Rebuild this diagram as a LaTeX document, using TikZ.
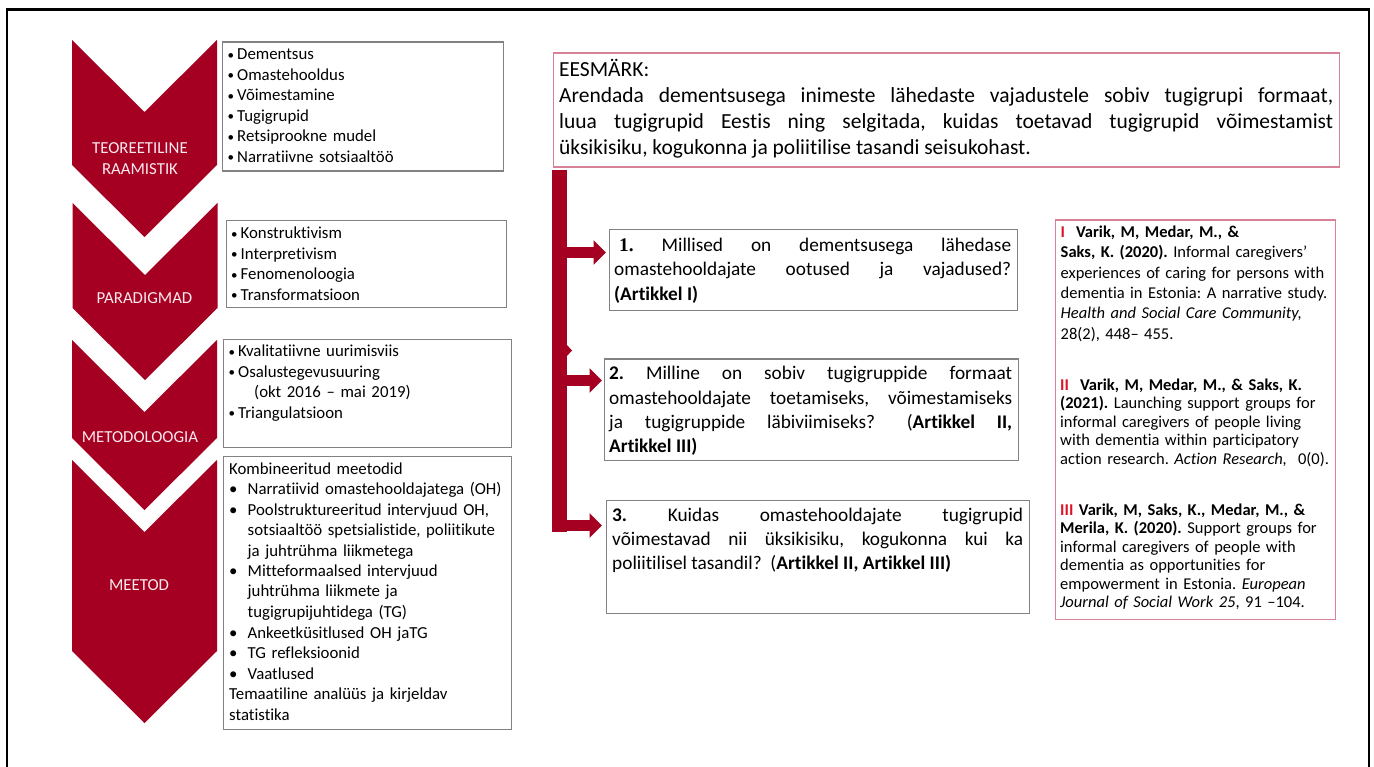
\documentclass[tikz,border=0pt]{standalone}
\usepackage{fontspec}
\setmainfont{Carlito}[Ligatures=NoCommon]
\newfontfamily\serifb{Liberation Serif}
\usetikzlibrary{arrows.meta}
\frenchspacing
\definecolor{chev}{RGB}{165,0,33}
\definecolor{chevtxt}{RGB}{250,234,238}
\definecolor{boxgray}{RGB}{130,130,130}
\definecolor{pinkb}{RGB}{215,130,150}
\definecolor{refred}{RGB}{220,20,40}
\newcommand{\bl}{\makebox[9.5pt][l]{\fontsize{13}{13}\selectfont\raisebox{0.6pt}{•}}}
\newcommand{\blw}{\makebox[18.5pt][l]{•}}
\newcommand{\jl}[2]{{\frenchspacing\spaceskip=\fontdimen2\font plus 1fil minus \fontdimen4\font\relax\makebox[#1][s]{#2}}}
\begin{document}
\begin{tikzpicture}[x=1pt,y=-1pt,
  chevron/.style={fill=chev},
  chevlabel/.style={text=chevtxt,font=\fontsize{16.8}{21}\selectfont,text width=150pt,align=center,anchor=base,inner sep=0pt},
  graybox/.style={draw=boxgray,line width=1.2pt,inner sep=0pt,anchor=north west},
  pinkbox/.style={draw=pinkb,line width=1.2pt,inner sep=0pt,anchor=north west},
  bodytext/.style={font=\fontsize{16.8}{20.5}\selectfont,anchor=base west,inner sep=0pt,align=left,text width=285pt},
  qtext/.style={font=\fontsize{19.3}{24.3}\selectfont,anchor=base west,inner sep=0pt,align=justify},
  reftext/.style={anchor=base west,inner sep=0pt,align=left,text width=272pt},
  qarrow/.style={draw=chev,line width=11.7pt,-{Triangle[length=12.5pt,width=24pt]}},
  frame/.style={draw=black,line width=2.8pt}]
\useasboundingbox (0,0) rectangle (1374,767);
\draw[frame] (7,800) -- (7,9.7) -- (1369,9.7) -- (1369,800);

% chevrons
\fill[chevron] (72,40) -- (144.5,112) -- (217,40) -- (217,165) -- (144.5,237) -- (72,165) -- cycle;
\fill[chevron] (72.5,203) -- (145,275) -- (217.5,203) -- (217.5,308) -- (145,380) -- (72.5,308) -- cycle;
\fill[chevron] (72,340) -- (144.5,412) -- (217,340) -- (217,438) -- (144.5,510) -- (72,438) -- cycle;
\fill[chevron] (72,460) -- (144.5,532) -- (217,460) -- (217,651) -- (144.5,723) -- (72,651) -- cycle;
\node[chevlabel] (l1) at (140,154) {TEOREETILINE\\RAAMISTIK};
\node[chevlabel] (l2) at (144.5,304) {PARADIGMAD};
\node[chevlabel] (l3) at (140,442) {METODOLOOGIA};
\node[chevlabel] (l4) at (139,590) {MEETOD};

% left boxes
\node[graybox,minimum width=281pt,minimum height=129pt] (b1) at (222,41.5) {};
\node[graybox,minimum width=280pt,minimum height=87pt] (b2) at (225.5,220) {};
\node[graybox,minimum width=287.5pt,minimum height=108pt] (b3) at (223,339) {};
\node[graybox,minimum width=287.5pt,minimum height=273pt] (b4) at (223,456) {};

\node[bodytext] (t1) at (227.5,60) {\bl Dementsus\\\bl Omastehooldus\\\bl Võimestamine\\\bl Tugigrupid\\\bl Retsiprookne mudel\\\bl Narratiivne sotsiaaltöö};
\node[bodytext] (t2) at (231,238.7) {\bl Konstruktivism\\\bl Interpretivism\\\bl Fenomenoloogia\\\bl Transformatsioon};
\node[bodytext] (t3) at (228.5,357) {\bl Kvalitatiivne uurimisviis\\\bl Osalustegevusuuring\\\hspace*{25.5pt}(okt 2016 – mai 2019)\\\bl Triangulatsioon};
\node[bodytext] (t4) at (229,474) {Kombineeritud meetodid\\
\blw Narratiivid omastehooldajatega (OH)\\
\blw Poolstruktureeritud intervjuud OH,\\
\hspace*{18.5pt}sotsiaaltöö spetsialistide, poliitikute\\
\hspace*{18.5pt}ja juhtrühma liikmetega\\
\blw Mitteformaalsed intervjuud\\
\hspace*{18.5pt}juhtrühma liikmete ja\\
\hspace*{18.5pt}tugigrupijuhtidega (TG)\\
\blw Ankeetküsitlused OH jaTG\\
\blw TG refleksioonid\\
\blw Vaatlused\\
Temaatiline analüüs ja kirjeldav\\
statistika};

% goal box
\node[pinkbox,minimum width=786.5pt,minimum height=114pt] (goal) at (552.5,52.5) {};
\node[qtext,font=\fontsize{21.5}{26}\selectfont,text width=774pt] (goaltext) at (559,77) {EESMÄRK:\\
\jl{774pt}{Arendada dementsusega inimeste lähedaste vajadustele sobiv tugigrupi formaat,}\\
\jl{774pt}{luua tugigrupid Eestis ning selgitada, kuidas toetavad tugigrupid võimestamist}\\
üksikisiku, kogukonna ja poliitilise tasandi seisukohast.};

% question boxes
\node[graybox,minimum width=408pt,minimum height=81pt] (q1) at (609,229) {};
\node[graybox,minimum width=414pt,minimum height=101.5pt] (q2) at (604,358.5) {};
\node[graybox,minimum width=423pt,minimum height=113pt] (q3) at (606,499.5) {};

\node[qtext,text width=397pt] (q1text) at (614,251.5) {\jl{397pt}{\hspace*{5pt}{\serifb\bfseries 1.} Millised on dementsusega lähedase}\\
\jl{397pt}{omastehooldajate ootused ja vajadused?}\\
\textbf{(Artikkel I)}};
\node[qtext,text width=403pt] (q2text) at (609,380) {\jl{403pt}{\textbf{2.} Milline on sobiv tugigruppide formaat}\\
\jl{403pt}{omastehooldajate toetamiseks, võimestamiseks}\\
\jl{403pt}{ja tugigruppide läbiviimiseks? \hspace{10pt}(\textbf{Artikkel II,}}\\
\textbf{Artikkel III)}};
\node[qtext,text width=411pt] (q3text) at (612,521) {\jl{411pt}{\textbf{3.} Kuidas omastehooldajate tugigrupid}\\
\jl{411pt}{võimestavad nii üksikisiku, kogukonna kui ka}\\
poliitilisel tasandil?~ (\textbf{Artikkel II, Artikkel III)}};

% bracket and arrows
\coordinate (bartop) at (559.5,170);
\coordinate (barbot) at (559.5,531.5);
\draw[chev,line width=15pt] (bartop) -- (barbot);
\fill[chev] (566,344) -- (572,350.5) -- (566,357) -- cycle;
\draw[qarrow,shorten >=3pt] (559.5,252.5) -- (q1.west |- 0,252.5);
\draw[qarrow,shorten >=2pt] (559.5,380.5) -- (q2.west |- 0,380.5);
\draw[qarrow,shorten >=4pt] (552,525.5) -- (q3.west |- 0,525.5);

% references
\node[pinkbox,minimum width=280.5pt,minimum height=399pt] (refs) at (1054.5,219.5) {};
\node[reftext,font=\fontsize{16.5}{20.4}\selectfont] (r1) at (1060.5,237.3) {\textbf{\textcolor{refred}{I}\ \ Varik, M, Medar, M., \&}\\
\textbf{Saks, K. (2020).} Informal caregivers’\\
experiences of caring for persons with\\
dementia in Estonia: A narrative study.\\
\textit{Health and Social Care Community,}\\
28(2), 448– 455.};
\node[reftext,font=\fontsize{16.5}{18.6}\selectfont] (r2) at (1060,390) {\textbf{\textcolor{refred}{II}\ \ Varik, M, Medar, M., \& Saks, K.}\\
\textbf{(2021).} Launching support groups for\\
informal caregivers of people living\\
with dementia within participatory\\
action research. \textit{Action Research,}\ \ 0(0).};
\node[reftext,font=\fontsize{16.5}{18.5}\selectfont] (r3) at (1060,515) {\textbf{\textcolor{refred}{III} Varik, M, Saks, K., Medar, M., \&}\\
\textbf{Merila, K. (2020).} Support groups for\\
informal caregivers of people with\\
dementia as opportunities for\\
empowerment in Estonia. \textit{European}\\
\textit{Journal of Social Work 25}, 91 –104.};
\end{tikzpicture}
\end{document}
